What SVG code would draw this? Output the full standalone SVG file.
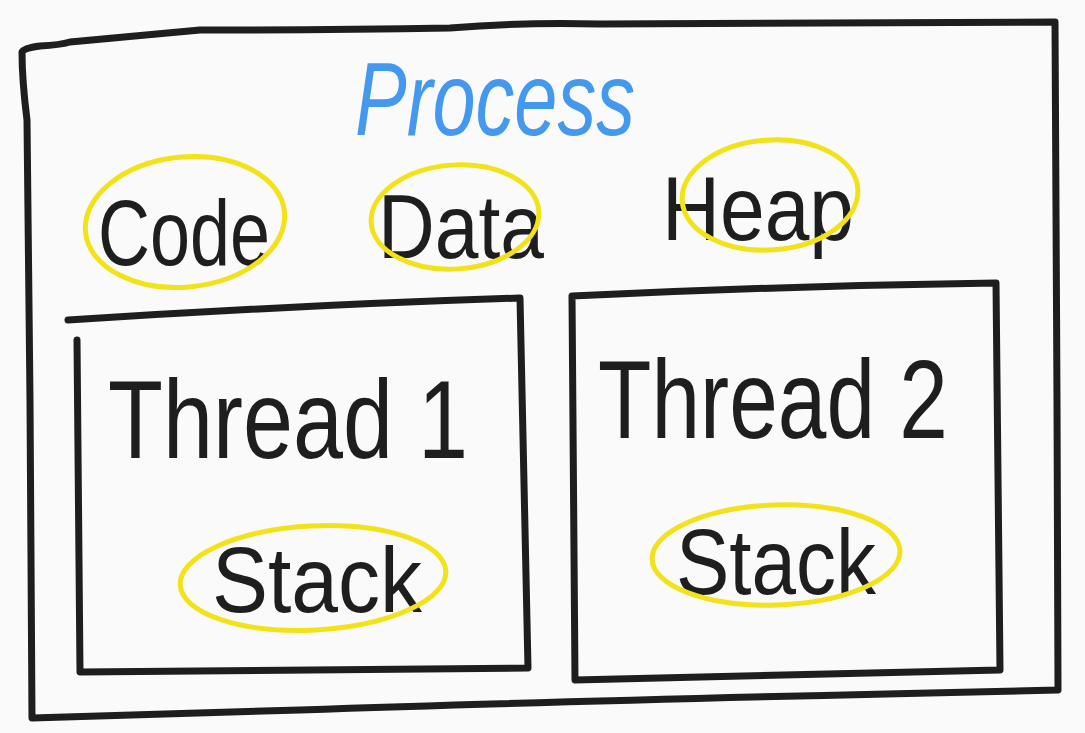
<svg xmlns="http://www.w3.org/2000/svg" width="1085" height="733" viewBox="0 0 1085 733">
<style>
.box{fill:none;stroke:#1e1e1e;stroke-width:7;stroke-linecap:round;stroke-linejoin:round}
.ring{fill:none;stroke:#f2e21a;stroke-width:5;stroke-linecap:round}
.hand{font-family:"Liberation Sans",Arial,sans-serif;fill:#1e1e1e}
.title{font-family:"Liberation Sans",Arial,sans-serif;fill:#4499ee;font-style:italic}
</style>
<rect width="1085" height="733" fill="#fafafa"/>
<g id="process">
<path class="box" d="M22,52 Q24,48 40,46 Q60,45 70,42 L200,30 Q330,30 450,28 Q520,22 600,24 L1055,22 L1057,400 L1058,690 Q600,700 300,710 L32,718 L30,400 L27,120 Q22,80 22,52 Z"/>
<text class="title" x="355" y="135" font-size="104" textLength="280" lengthAdjust="spacingAndGlyphs">Process</text>
</g>
<g id="code">
<text class="hand" x="98" y="265" font-size="92" textLength="172" lengthAdjust="spacingAndGlyphs">Code</text>
<ellipse class="ring" cx="185" cy="222" rx="100" ry="65" transform="rotate(-6 185 222)"/>
</g>
<g id="data">
<text class="hand" x="378" y="258" font-size="90" textLength="166" lengthAdjust="spacingAndGlyphs">Data</text>
<ellipse class="ring" cx="455" cy="217" rx="84" ry="52" transform="rotate(-4 455 217)"/>
</g>
<g id="heap">
<text class="hand" x="662" y="240" font-size="90" textLength="192" lengthAdjust="spacingAndGlyphs">Heap</text>
<ellipse class="ring" cx="770" cy="195" rx="88" ry="55" transform="rotate(-4 770 195)"/>
</g>
<g id="thread1">
<path class="box" d="M68,320 Q300,305 520,298 L528,668 L80,672 L77,340"/>
<text class="hand" x="108" y="458" font-size="112" textLength="360" lengthAdjust="spacingAndGlyphs">Thread 1</text>
<g id="stack1">
<text class="hand" x="212" y="612" font-size="92" textLength="210" lengthAdjust="spacingAndGlyphs">Stack</text>
<ellipse class="ring" cx="313" cy="578" rx="133" ry="52" transform="rotate(-3 313 578)"/>
</g>
</g>
<g id="thread2">
<path class="box" d="M572,296 Q780,286 996,283 L1000,670 L575,680 L572,296"/>
<text class="hand" x="598" y="438" font-size="112" textLength="350" lengthAdjust="spacingAndGlyphs">Thread 2</text>
<g id="stack2">
<text class="hand" x="676" y="594" font-size="92" textLength="200" lengthAdjust="spacingAndGlyphs">Stack</text>
<ellipse class="ring" cx="776" cy="555" rx="124" ry="50" transform="rotate(-2 776 555)"/>
</g>
</g>
<g id="connectors"/>
</svg>
